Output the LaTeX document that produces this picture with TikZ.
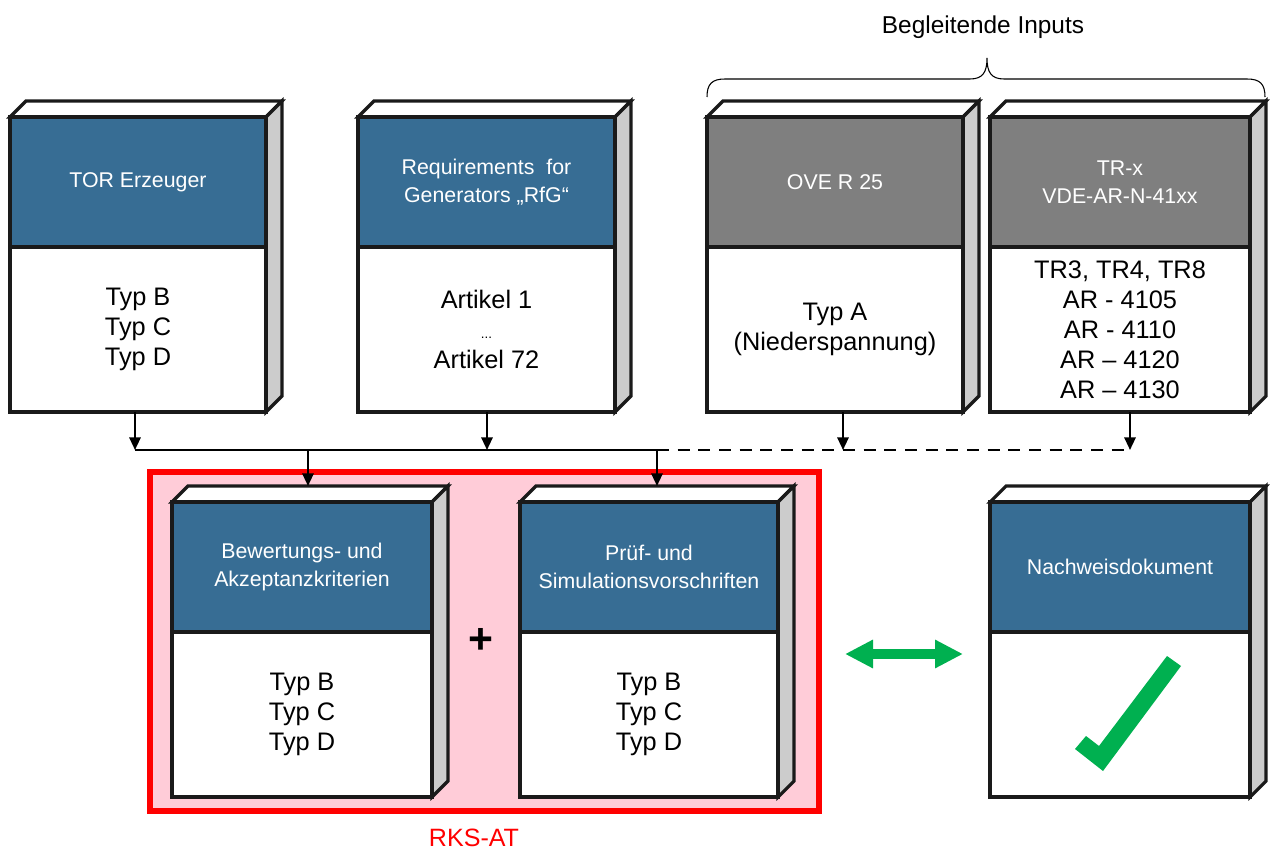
\documentclass[tikz,border=0pt]{standalone}
\usepackage{fontspec}
\setmainfont{Liberation Sans}
\usetikzlibrary{arrows.meta}
\definecolor{hdrblue}{RGB}{55,109,148}
\definecolor{hdrgray}{RGB}{127,127,127}
\definecolor{sidegray}{RGB}{204,204,204}
\definecolor{rkspink}{RGB}{255,204,216}
\definecolor{okgreen}{RGB}{0,176,80}
\tikzset{
  boxline/.style={draw={rgb, 255:red, 26; green, 26; blue, 26 }, line width=2.4pt},
  headtext/.style={text=white, align=center, inner sep=0.75pt, font=\fontsize{16}{21}\selectfont},
  bodytext/.style={align=center, inner sep=0.75pt, font=\fontsize{19}{22.5}\selectfont},
  conn/.style={line width=1.6pt, -{Triangle[length=9.5pt,width=8.5pt]}},
  feed/.style={line width=1.6pt},
  feeddash/.style={line width=1.6pt, dash pattern={on 9pt off 6.5pt}}
}
% one block: name, left, top, width, header colour
\newcommand{\stdblock}[5]{%
  \begin{scope}[shift={(#2,#3)}]
    \draw [boxline, fill=white] (0,0) -- (16,-16) -- (#4+16,-16) -- (#4,0) -- cycle ;
    \draw [boxline, fill=sidegray] (#4,0) -- (#4+16,-16) -- (#4+16,279) -- (#4,295) -- cycle ;
    \draw [boxline, fill=#5] (0,0) rectangle (#4,130) ;
    \draw [boxline, fill=white] (0,130) rectangle (#4,295) ;
    \coordinate (#1-head) at (#4/2,65) ;
    \coordinate (#1-body) at (#4/2,212.5) ;
  \end{scope}}

\begin{document}
\begin{tikzpicture}[x=0.75pt,y=0.75pt,yscale=-1,xscale=1]
	\useasboundingbox (0,0) rectangle (1271,852);

	%Shape: Rectangle [RKS-AT frame]
	\draw [color=red, line width=3.8pt, fill=rkspink] (150,472) rectangle (819,811) ;

	%Shape: Blocks, upper row
	\stdblock{tor}{10}{117}{256}{hdrblue}
	\stdblock{rfg}{358}{117}{257}{hdrblue}
	\stdblock{ove}{707}{117}{256}{hdrgray}
	\stdblock{trx}{990}{117}{260}{hdrgray}
	%Shape: Blocks, lower row
	\stdblock{bew}{172}{502}{260}{hdrblue}
	\stdblock{pruef}{520}{502}{258}{hdrblue}
	\stdblock{nachw}{990}{502}{260}{hdrblue}

	% Text Node
	\node [headtext] (tor-title) at (tor-head) {TOR Erzeuger};
	\node [bodytext] (tor-text) at (tor-body) {Typ B\\Typ C\\Typ D};
	% Text Node
	\node [headtext] (rfg-title) at (rfg-head) {Requirements~~for\\Generators „RfG“};
	\node [bodytext] (rfg-text) at (rfg-body) {Artikel 1\\{\fontsize{10}{22.5}\selectfont ...}\\Artikel 72};
	% Text Node
	\node [headtext] (ove-title) at (ove-head) {OVE R 25};
	\node [bodytext] (ove-text) at (ove-body) {Typ A\\(Niederspannung)};
	% Text Node
	\node [headtext] (trx-title) at (trx-head) {TR-x\\VDE-AR-N-41xx};
	\node [bodytext] (trx-text) at (trx-body) {TR3, TR4, TR8\\AR - 4105\\AR - 4110\\AR – 4120\\AR – 4130};
	% Text Node
	\node [headtext] (bew-title) at (bew-head) {Bewertungs- und\\Akzeptanzkriterien};
	\node [bodytext] (bew-text) at (bew-body) {Typ B\\Typ C\\Typ D};
	% Text Node
	\node [headtext] (pruef-title) at (pruef-head) {Prüf- und\\Simulationsvorschriften};
	\node [bodytext] (pruef-text) at (pruef-body) {Typ B\\Typ C\\Typ D};
	% Text Node
	\node [headtext] (nachw-title) at (nachw-head) {Nachweisdokument};

	% Text Node
	\node [inner sep=0.75pt, font=\fontsize{32}{32}\selectfont\bfseries] (plus) at (481,641) {+};
	% Text Node
	\node [inner sep=0.75pt, font=\fontsize{18.3}{22}\selectfont] (inputs) at (983,27) {Begleitende Inputs};
	% Text Node
	\node [inner sep=0.75pt, text=red, font=\fontsize{18.8}{22}\selectfont] (rksat) at (474,838) {RKS-AT};

	%Straight Lines: connector points
	\coordinate (tor-out) at (135,412);
	\coordinate (tor-in) at (135,450);
	\coordinate (rfg-out) at (487,412);
	\coordinate (rfg-in) at (487,450);
	\coordinate (ove-out) at (843,412);
	\coordinate (ove-in) at (843,450);
	\coordinate (trx-out) at (1130,412);
	\coordinate (trx-in) at (1130,450);
	\coordinate (bew-split) at (308,450);
	\coordinate (bew-in) at (308,486);
	\coordinate (pruef-split) at (657,450);
	\coordinate (pruef-in) at (657,486);
	%Straight Lines
	\draw [feed] (tor-in) -- (pruef-split) ;
	\draw [feeddash] (pruef-split) -- (trx-in) ;
	\draw [conn] (tor-out) -- (tor-in) ;
	\draw [conn] (rfg-out) -- (rfg-in) ;
	\draw [conn] (ove-out) -- (ove-in) ;
	\draw [conn] (trx-out) -- (trx-in) ;
	\draw [conn] (bew-split) -- (bew-in) ;
	\draw [conn] (pruef-split) -- (pruef-in) ;

	%Shape: Brace
	\draw [line width=0.8pt] (707,97) .. controls (707,84) and (712,79) .. (725,79) -- (970,79) .. controls (983,79) and (987,72) .. (987,58) .. controls (987,72) and (991,79) .. (1004,79) -- (1247,79) .. controls (1260,79) and (1265,84) .. (1265,97) ;

	%Shape: Double Arrow
	\coordinate (cmp-l) at (845,654);
	\coordinate (cmp-r) at (963,654);
	\draw [okgreen, line width=6.8pt, {Triangle[length=21pt,width=20pt]}-{Triangle[length=21pt,width=20pt]}] (cmp-l) -- (cmp-r) ;

	%Shape: Check mark
	\fill [okgreen] (1075,749) -- (1086,736) -- (1099,746) -- (1167,656) -- (1181,666) -- (1103,771) -- cycle ;

\end{tikzpicture}
\end{document}
